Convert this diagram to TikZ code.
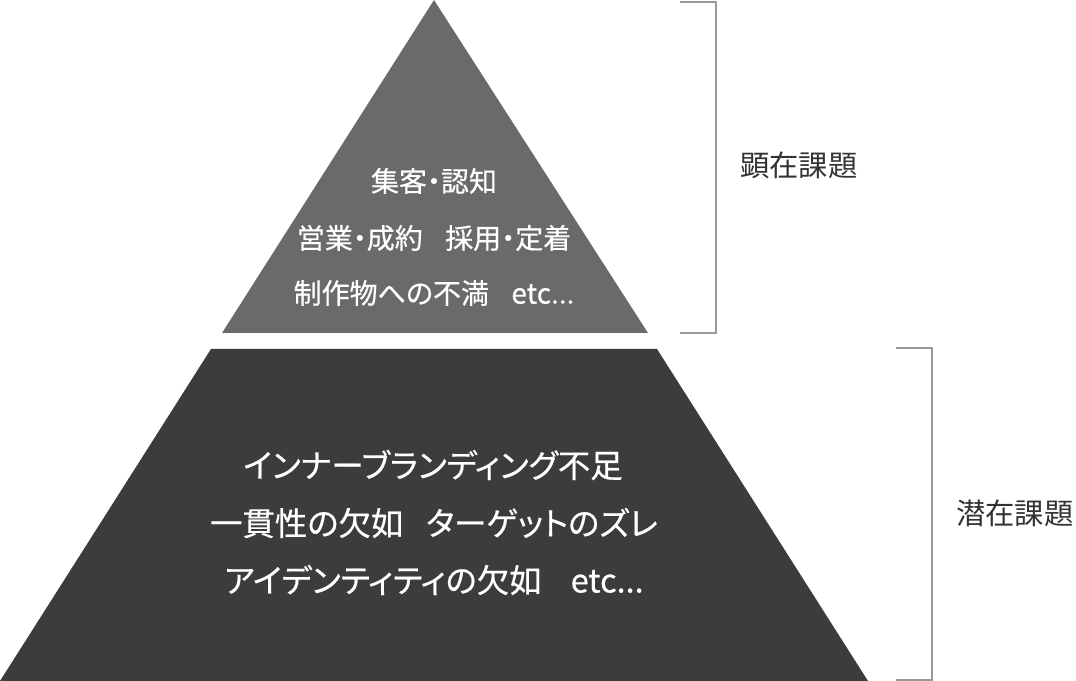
\documentclass[tikz,border=0pt]{standalone}
\usepackage{fontspec}
\setmainfont[RawFeature=+palt]{Noto Sans CJK JP}
\newfontfamily\medfont[RawFeature=+palt,FakeBold=0.5]{Noto Sans CJK JP}
\usepackage{tikz}
\usetikzlibrary{calc,positioning}
\definecolor{upgray}{HTML}{6B6A69}
\definecolor{lowgray}{HTML}{3C3C3B}
\definecolor{brgray}{HTML}{9A9A9A}
\definecolor{labgray}{HTML}{333333}
\tikzset{
  intext/.style={text=white,font=\medfont\fontsize{21}{25}\selectfont,inner sep=0pt},
  lowtext/.style={text=white,font=\medfont\fontsize{24.3}{28}\selectfont,inner sep=0pt},
  sidetext/.style={text=labgray,font=\fontsize{22}{26}\selectfont,inner sep=0pt,anchor=west},
  brace/.style={draw=brgray,line width=1.5pt}
}

\begin{document}
\begin{tikzpicture}[x=0.75pt,y=-0.75pt]
  \useasboundingbox (0,0) rectangle (1076,681);
  % the two layers
  \fill[upgray] (434,0) -- (648,333) -- (222,333) -- cycle;
  \fill[lowgray] (211,349) -- (657,349) -- (868,681) -- (0,681) -- cycle;
  % texts of the upper layer
  \node at (434,181) (U1) [intext]{集客・認知};
  \node at (434,238) (U2) [intext]{営業・成約\hspace{0.8em}採用・定着};
  \node at (434,293) (U3) [intext]{制作物への不満\hspace{0.8em}etc...};
  % texts of the lower layer
  \node at (433,465) (L1) [lowtext]{インナーブランディング不足};
  \node at (434,523) (L2) [lowtext]{一貫性の欠如\hspace{0.7em}ターゲットのズレ};
  \node at (434,580) (L3) [lowtext]{アイデンティティの欠如\hspace{0.9em}etc...};
  % brackets
  \coordinate (A1) at (680,2);   \coordinate (A2) at (716,2);
  \coordinate (A3) at (716,333); \coordinate (A4) at (680,333);
  \coordinate (B1) at (896,348); \coordinate (B2) at (932,348);
  \coordinate (B3) at (932,680); \coordinate (B4) at (896,680);
  \draw[brace] (A1) -- (A2) -- (A3) -- (A4);
  \draw[brace] (B1) -- (B2) -- (B3) -- (B4);
  \node at (740,165) (R1) [sidetext]{顕在課題};
  \node at (956,513) (R2) [sidetext]{潜在課題};
\end{tikzpicture}
\end{document}
